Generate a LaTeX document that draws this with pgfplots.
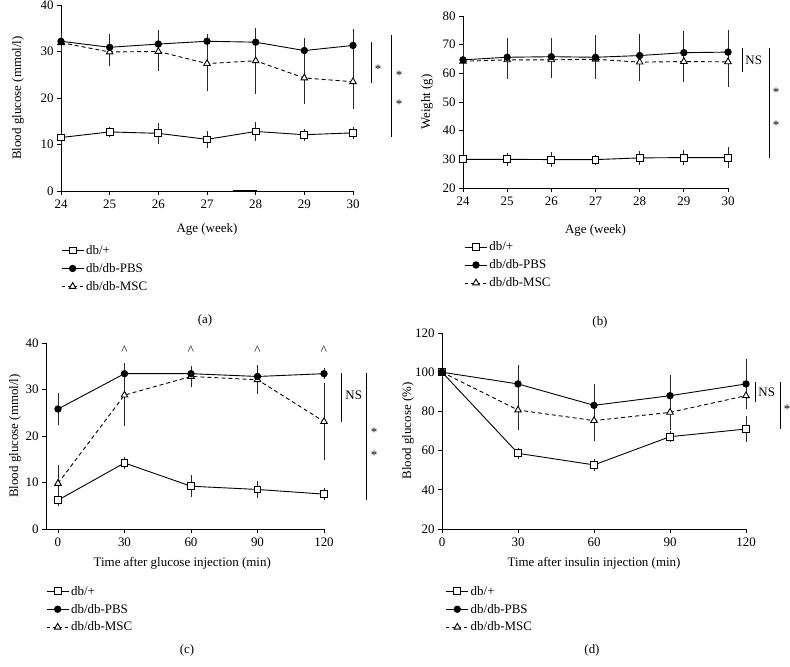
\documentclass[border=0pt]{standalone}
\usepackage{fontspec}
\setmainfont{Liberation Serif}
\usepackage{pgfplots}
\pgfplotsset{compat=1.18}
\usepackage{pgfplotstable}

\newcommand{\fs}{\fontsize{13}{15}\selectfont}

\pgfplotstableread{
x sq sqe pbs pbse msc msce
24 11.5 0.4 32.2 1.0 31.9 1.2
25 12.7 0.3 30.9 2.0 29.9 2.3
26 12.4 1.4 31.6 2.2 30.0 3.3
27 11.1 1.0 32.2 0.8 27.4 5.0
28 12.8 1.2 32.0 2.0 28.0 6.3
29 12.1 0.5 30.2 1.8 24.3 4.8
30 12.5 0.5 31.3 2.8 23.5 5.1
}\tA
\pgfplotstableread{
x sq sqe pbs pbse msc msce
24 30.0 0.5 64.7 5.2 64.2 4.8
25 30.0 1.0 65.6 5.5 64.7 5.2
26 29.9 1.2 65.8 5.3 64.7 5.0
27 29.9 0.4 65.6 6.3 64.9 5.2
28 30.5 1.0 66.2 6.3 63.9 5.4
29 30.6 1.3 67.2 6.3 64.1 5.8
30 30.6 2.3 67.4 6.3 64.0 7.3
}\tB
\pgfplotstableread{
x sq sqe pbs pbse msc msce
0 6.2 0.5 25.8 2.7 9.8 3.2
30 14.2 0.4 33.4 1.4 28.8 5.8
60 9.2 1.5 33.4 0.6 32.8 1.4
90 8.5 1.1 32.8 1.7 32.1 2.3
120 7.5 0.4 33.4 0.3 23.1 7.4
}\tC
\pgfplotstableread{
x sq sqe pbs pbse msc msce
0 100 0.5 100 0.5 100 0.5
30 58.6 1.0 94.0 7.6 80.7 8.0
60 52.7 1.0 83.1 9.0 75.3 8.5
90 67.1 1.0 88.0 8.5 79.5 6.8
120 71.0 4.6 94.0 10.9 88.0 4.7
}\tD

\pgfplotsset{
  panel/.style={
    scale only axis, anchor=south west, clip=false,
    axis x line*=bottom, axis y line*=left,
    axis line style={line width=0.9bp, black},
    tick align=outside, major tick length=4bp,
    tick style={line width=0.9bp, black},
    /pgf/number format/assume math mode=true,
    ticklabel style={font=\fs},
    xticklabel style={yshift=-1.5bp},
    label style={font=\fs},
    legend style={draw=none, fill=none, font=\fs, anchor=north west,
      row sep=3.5bp, inner sep=0pt, cells={anchor=west}},
    legend cell align=left,
    legend image code/.code={\draw[mark repeat=2,mark phase=2,##1] plot coordinates {(0bp,0bp) (11bp,0bp) (22bp,0bp)};},
  },
  sqp/.style={black, line width=0.9bp, solid, mark=square*, mark size=3.4bp, mark options={fill=white, solid}},
  pbsp/.style={black, line width=0.9bp, solid, mark=*, mark size=3.2bp, mark options={fill=black, solid}},
  mscp/.style={black, line width=0.9bp, dash pattern=on 4bp off 3bp, mark=triangle*, mark size=3.8bp, mark options={fill=white, solid}},
  eb/.style={forget plot, error bars/.cd, y dir=both, y explicit,
    error bar style={line width=0.75bp, black!85, solid},
    error mark options={mark size=3.8bp, line width=0.75bp, black!85, solid}},
}

\newcommand{\threeplots}[1]{%
  \addlegendimage{sqp}\addlegendentry{db/+}
  \addlegendimage{pbsp}\addlegendentry{db/db-PBS}
  \addlegendimage{mscp, dash pattern=on 3bp off 3bp}\addlegendentry{db/db-MSC}
  \addplot[sqp, eb] table[x=x, y=sq, y error=sqe] {#1};
  \addplot[mscp, eb] table[x=x, y=msc, y error=msce] {#1};
  \addplot[pbsp, eb] table[x=x, y=pbs, y error=pbse] {#1};
}

\begin{document}
\begin{tikzpicture}[x=1bp,y=1bp]
\path[use as bounding box] (0,0) rectangle (790,667);

% (a)
\begin{axis}[panel, at={(61bp,476bp)}, width=292bp, height=186bp,
  xmin=24, xmax=30, ymin=0, ymax=40,
  xtick={24,25,26,27,28,29,30}, ytick={0,10,20,30,40},
  xlabel={Age (week)}, ylabel={Blood glucose (mmol/l)},
  xlabel style={at={(axis description cs:0.5,-0.209)}, anchor=center},
  ylabel style={at={(axis description cs:-0.147,0.5)}, anchor=center},
  legend style={at={(axis description cs:0.0,-0.28)}}]
  \threeplots{\tA}
\end{axis}

% (b)
\begin{axis}[panel, at={(463bp,479bp)}, width=265bp, height=172bp,
  xmin=24, xmax=30, ymin=20, ymax=80,
  xtick={24,25,26,27,28,29,30}, ytick={20,30,40,50,60,70,80},
  xlabel={Age (week)}, ylabel={Weight (g)},
  xlabel style={at={(axis description cs:0.5,-0.244)}, anchor=center},
  ylabel style={at={(axis description cs:-0.136,0.5)}, anchor=center},
  legend style={at={(axis description cs:0.005,-0.30)}}]
  \threeplots{\tB}
\end{axis}

% (c)
\begin{axis}[panel, at={(46bp,138bp)}, width=278bp, height=186bp,
  xmin=-5.4, xmax=120, ymin=0, ymax=40,
  xtick={0,30,60,90,120}, ytick={0,10,20,30,40},
  xlabel={Time after glucose injection (min)}, ylabel={Blood glucose (mmol/l)},
  xlabel style={at={(axis description cs:0.49,-0.183)}, anchor=center},
  ylabel style={at={(axis description cs:-0.111,0.5)}, anchor=center},
  legend style={at={(axis description cs:0.0,-0.295)}}]
  \threeplots{\tC}
  \node[anchor=base, font=\fs] at (axis cs:30,37.5) {\textasciicircum};
  \node[anchor=base, font=\fs] at (axis cs:60,37.5) {\textasciicircum};
  \node[anchor=base, font=\fs] at (axis cs:90,37.5) {\textasciicircum};
  \node[anchor=base, font=\fs] at (axis cs:120,37.5) {\textasciicircum};
\end{axis}

% (d)
\begin{axis}[panel, at={(442bp,138bp)}, width=304bp, height=196bp,
  xmin=0, xmax=120, ymin=20, ymax=120,
  xtick={0,30,60,90,120}, ytick={20,40,60,80,100,120},
  xlabel={Time after insulin injection (min)}, ylabel={Blood glucose (\%)},
  xlabel style={at={(axis description cs:0.5,-0.173)}, anchor=center},
  ylabel style={at={(axis description cs:-0.112,0.5)}, anchor=center},
  legend style={at={(axis description cs:0.012,-0.28)}}]
  \threeplots{\tD}
\end{axis}

% significance annotations
\begin{scope}[line width=0.8bp]
% (a)
\draw (371,625) -- (371,584);
\node[font=\fs] at (378,598) {*};
\draw (391,632) -- (391,530);
\node[font=\fs] at (399,592) {*};
\node[font=\fs] at (399,563) {*};
\draw[line width=1.6bp] (233,476) -- (257,476);
% (b)
\draw (742,619) -- (742,595);
\node[font=\fs, anchor=west, inner sep=0pt] at (745,607) {NS};
\draw (769,619) -- (769,509);
\node[font=\fs] at (776,575) {*};
\node[font=\fs] at (776,542) {*};
% (c)
\draw (341,294) -- (341,245);
\node[font=\fs, anchor=west, inner sep=0pt] at (345,272) {NS};
\draw (366,294) -- (366,167);
\node[font=\fs] at (374,235) {*};
\node[font=\fs] at (374,212) {*};
% (d)
\draw (755,285) -- (755,265);
\node[font=\fs, anchor=west, inner sep=0pt] at (758,275) {NS};
\draw (780,285) -- (780,238);
\node[font=\fs] at (787,258) {*};
\end{scope}

% panel labels
\node[font=\fs] at (205,347) {(a)};
\node[font=\fs] at (600,345) {(b)};
\node[font=\fs] at (187,17) {(c)};
\node[font=\fs] at (592,17) {(d)};
\end{tikzpicture}
\end{document}
